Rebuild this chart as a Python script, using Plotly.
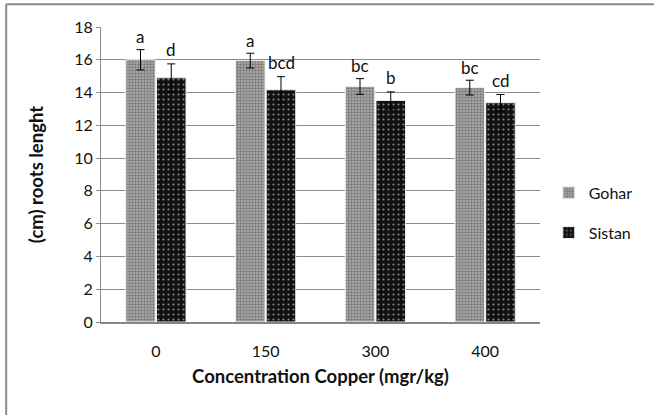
import plotly.graph_objects as go

categories = ["0", "150", "300", "400"]
gohar = [16.0, 15.95, 14.37, 14.3]
gohar_err = [0.62, 0.45, 0.48, 0.45]
sistan = [14.9, 14.17, 13.52, 13.38]
sistan_err = [0.85, 0.8, 0.52, 0.5]
gohar_letters = ["a", "a", "bc", "bc"]
sistan_letters = ["d", "bcd", "b", "cd"]
y_ticks = [0, 2, 4, 6, 8, 10, 12, 14, 16, 18]

FONT = "Lato, Open Sans, sans-serif"

fig = go.Figure()
fig.add_trace(go.Bar(
    x=categories, y=gohar, name="Gohar", legendgroup="g",
    marker=dict(color="#9a9a9a", line=dict(color="#f0f0f0", width=1),
                pattern=dict(shape=".", fgcolor="#404040", bgcolor="#b0b0b0", size=3, solidity=0.5)),
    error_y=dict(type="data", array=gohar_err, color="black", thickness=1, width=4),
))
fig.add_trace(go.Bar(
    x=categories, y=sistan, name="Sistan", legendgroup="s",
    marker=dict(color="#111111", line=dict(color="#f0f0f0", width=1),
                pattern=dict(shape=".", fgcolor="#ffffff", bgcolor="#111111", size=5, solidity=0.15)),
    error_y=dict(type="data", array=sistan_err, color="black", thickness=1, width=4),
))

# letters: x given as category index so numeric-looking labels are not read as positions
for i, (v, e, t) in enumerate(zip(gohar, gohar_err, gohar_letters)):
    fig.add_annotation(x=i, y=v + e, text=t, showarrow=False, xshift=-15.5, yshift=13,
                       yanchor="middle", font=dict(family=FONT, size=17, color="#111"))
for i, (v, e, t) in enumerate(zip(sistan, sistan_err, sistan_letters)):
    fig.add_annotation(x=i, y=v + e, text=t, showarrow=False, xshift=15.5, yshift=14,
                       yanchor="middle", font=dict(family=FONT, size=17, color="#111"))

# outer chart border (top and left only visible)
fig.add_shape(type="line", xref="paper", yref="paper", x0=-0.216, x1=1.3, y0=1.077, y1=1.077,
              line=dict(color="#8a8a8a", width=2))
fig.add_shape(type="line", xref="paper", yref="paper", x0=-0.216, x1=-0.216, y0=-0.35, y1=1.077,
              line=dict(color="#8a8a8a", width=2))

fig.update_layout(
    width=654, height=415,
    margin=dict(l=101, r=114, t=27, b=93),
    paper_bgcolor="white", plot_bgcolor="white",
    barmode="group", bargap=0.44, bargroupgap=0.04,
    font=dict(family=FONT, size=16, color="#111"),
    legend=dict(x=1.02, xanchor="left", y=0.37, yanchor="middle",
                tracegroupgap=16, traceorder="grouped",
                font=dict(family=FONT, size=16), itemwidth=30, bgcolor="rgba(0,0,0,0)"),
    showlegend=True,
)
fig.update_xaxes(
    type="category", range=[-0.5, 3.5], showgrid=False, showline=True, linecolor="#868686", linewidth=2,
    ticks="outside", ticklen=14, tickcolor="rgba(0,0,0,0)",
    tickfont=dict(family=FONT, size=16, color="#111"),
    title=dict(text="<b>Concentration Copper (mgr/kg)</b>", font=dict(family=FONT, size=18.5, color="#111"), standoff=11),
)
fig.update_yaxes(
    range=[0, 18], tickvals=y_ticks, showgrid=True, gridcolor="#8c8c8c", gridwidth=1,
    showline=True, linecolor="#8c8c8c", linewidth=1, ticks="outside", ticklen=4, tickcolor="#8c8c8c",
    tickfont=dict(family=FONT, size=16, color="#111"), zeroline=False,
    title=dict(text="<b>(cm) roots lenght</b>", font=dict(family=FONT, size=18.5, color="#111"), standoff=25),
)

fig.write_html("out.html", config={"displayModeBar": False},
               post_script="document.body.style.margin='0';")
